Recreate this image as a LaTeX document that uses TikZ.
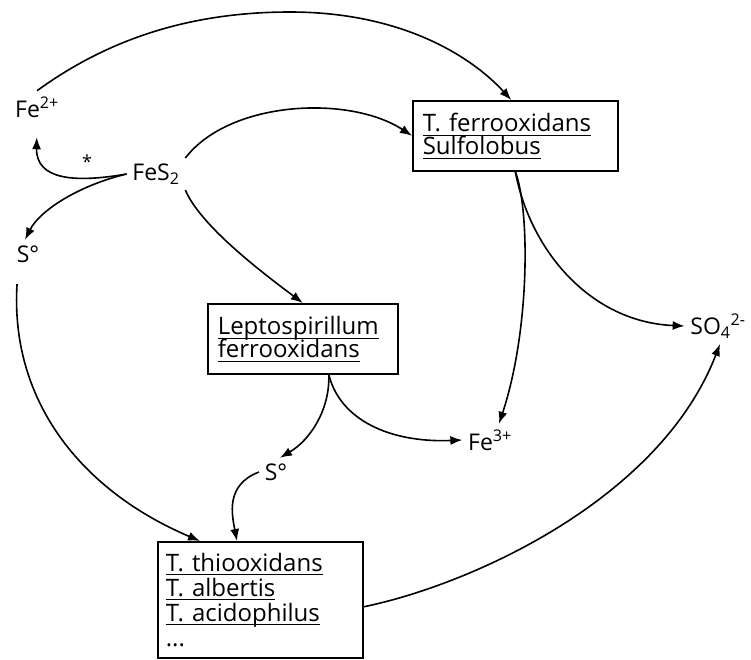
\documentclass[tikz,border=0pt]{standalone}
\usepackage{fontspec}
\setmainfont{Open Sans}
\usetikzlibrary{arrows.meta}
\newcommand\taxon[1]{\underline{\raisebox{0pt}[\height][2pt]{#1}}}

\begin{document}
\begin{tikzpicture}
    [
        x = 1pt, y = 1pt,
        line width = 1.6pt,
        >= {Latex[length=12pt,width=9pt]},
        species/.style = {draw, anchor=north west, align=left, inner xsep=10pt, inner ysep=4pt, font=\fontsize{24}{23}\selectfont},
        ion/.style = {inner sep=5pt, font=\fontsize{23}{23}\selectfont}
    ]
    \useasboundingbox (0,0) rectangle (751,-659);
    \node [ion] at (37,-107) (fetwo) {Fe\textsuperscript{2+}};
    \node [ion] at (156,-174) (pyrite) {FeS\textsubscript{2}};
    \node [ion, inner sep=1pt, font=\fontsize{18}{18}\selectfont] at (87,-162) (star) {*};
    \node [ion] at (28,-254) (sulfurA) {S°};
    \node [ion] at (276,-472) (sulfurB) {S°};
    \node [ion] at (490,-440) (fethree) {Fe\textsuperscript{3+}};
    \node [ion] at (718,-326) (sulfate) {SO\textsubscript{4}\textsuperscript{2-}};
    \node [species, text width=185pt, minimum height=70pt] at (412,-100) (ferro) {\taxon{T. ferrooxidans}\\ \taxon{Sulfolobus}};
    \node [species, text width=170pt, minimum height=70pt] at (207,-303) (lepto) {\taxon{Leptospirillum}\\ \taxon{ferrooxidans}};
    \node [species, inner xsep=8pt, text width=189pt, minimum height=116pt, font=\fontsize{24}{25}\selectfont] at (157,-541) (thio) {\taxon{T. thiooxidans}\\ \taxon{T. albertis}\\ \taxon{T. acidophilus}\\ ...};

    \draw [->] (fetwo.north) .. controls (100,-45) and (180,-12) .. (290,-12) .. controls (400,-12) and (470,-55) .. ([xshift=-4pt]ferro.north);
    \draw [->] (pyrite.north east) .. controls (230,-100) and (350,-95) .. (ferro.west);
    \draw [->, shorten >=14pt] (pyrite.west) .. controls (75,-183) and (36,-180) .. (fetwo.south);
    \draw [->] (pyrite.west) .. controls (80,-185) and (40,-210) .. ([xshift=-3pt]sulfurA.north);
    \draw [->] (pyrite.south east) .. controls (200,-225) and (260,-271) .. (lepto.north);
    \draw [->, shorten <=16pt] ([xshift=-10pt]sulfurA.south) .. controls (10,-400) and (80,-490) .. ([xshift=43pt]thio.north west);
    \draw [->] (ferro.south) .. controls (530,-250) and (590,-322) .. (sulfate.west);
    \draw [->] (ferro.south) .. controls (530,-210) and (530,-330) .. ([xshift=9pt]fethree.north);
    \draw [->] ([xshift=26pt]lepto.south) .. controls (330,-410) and (310,-440) .. ([xshift=4pt]sulfurB.north);
    \draw [->] ([xshift=26pt]lepto.south) .. controls (340,-420) and (390,-443) .. (fethree.west);
    \draw [->] (sulfurB.west) .. controls (225,-485) and (232,-515) .. ([xshift=80pt]thio.north west);
    \draw [->] ([yshift=-7pt]thio.east) .. controls (470,-585) and (660,-500) .. ([xshift=2pt]sulfate.south);
\end{tikzpicture}
\end{document}
